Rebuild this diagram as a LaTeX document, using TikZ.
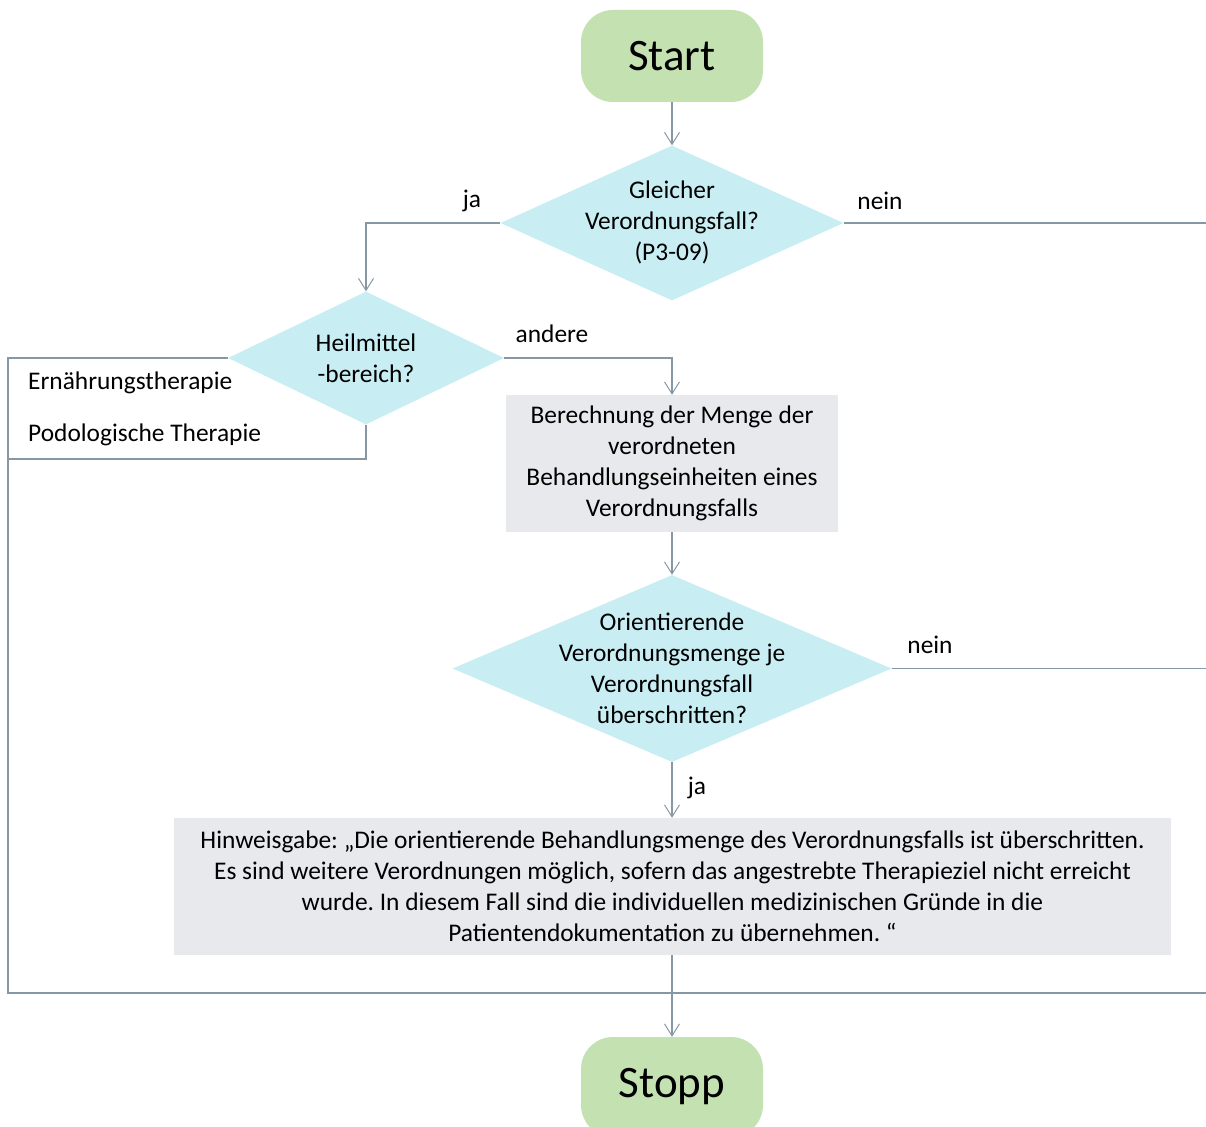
\documentclass[tikz,border=0pt]{standalone}
\usepackage{fontspec}
\setmainfont{Carlito}
\usetikzlibrary{shapes.geometric,arrows.meta}
\definecolor{lineC}{HTML}{8798A4}
\definecolor{greenC}{HTML}{C4E1B2}
\definecolor{cyanC}{HTML}{C8EEF3}
\definecolor{greyC}{HTML}{E7E9EC}
\frenchspacing
\begin{document}
\begin{tikzpicture}[x=1pt,y=-1pt,
  every node/.style={font=\fontsize{25.4}{31}\selectfont, text=black},
  term/.style={draw=none, fill=greenC, rounded corners=32pt, minimum width=182pt, minimum height=92pt, inner sep=0pt, font=\fontsize{45}{50}\selectfont},
  dia/.style={diamond, draw=none, fill=cyanC, inner sep=0pt},
  procbox/.style={draw=none, fill=greyC, inner sep=0pt},
  txt/.style={align=center, inner sep=0pt},
  lbl/.style={inner sep=0pt},
  conn/.style={draw=lineC, line width=1.2pt},
  arr/.style={conn, -{Straight Barb[length=12pt,width=15pt,line width=1pt]}}
]
\useasboundingbox (0,0) rectangle (1206,1126);

% Start / Stop
\node[term] (start) at (672,56) {Start};
\node[term, minimum height=100pt] (stop) at (672,1087) {Stopp};

% Decision 1
\node[dia, minimum width=343pt, minimum height=155pt] (d1) at (672,223) {};
\node[txt] (d1t) at (672,222) {Gleicher\\Verordnungsfall?\\(P3-09)};

% Decision 2
\node[dia, minimum width=276pt, minimum height=133pt] (d2) at (366,358) {};
\node[txt] (d2t) at (d2.center) {Heilmittel\\-bereich?};

% Box 1
\node[procbox, minimum width=332pt, minimum height=137pt] (b1) at (672,463.5) {};
\node[txt] (b1t) at (b1.center) {Berechnung der Menge der\\verordneten\\Behandlungseinheiten eines\\Verordnungsfalls};

% Decision 3
\node[dia, minimum width=439pt, minimum height=187pt] (d3) at (672,668.5) {};
\node[txt] (d3t) at (d3.center) {Orientierende\\Verordnungsmenge je\\Verordnungsfall\\überschritten?};

% Box 2
\node[procbox, minimum width=997pt, minimum height=137pt] (b2) at (672.5,886.5) {};
\node[txt] (b2t) at (b2.center) {Hinweisgabe: „Die orientierende Behandlungsmenge des Verordnungsfalls ist überschritten.\\Es sind weitere Verordnungen möglich, sofern das angestrebte Therapieziel nicht erreicht\\wurde. In diesem Fall sind die individuellen medizinischen Gründe in die\\Patientendokumentation zu übernehmen. “};

% Coordinates
\coordinate (r1) at (1212,223);
\coordinate (r3) at (1212,668.5);
\coordinate (lt) at (8,358);
\coordinate (lb) at (8,993);
\coordinate (rb) at (1212,993);
\coordinate (d2b) at (366,459);
\coordinate (lm) at (8,459);

% Connectors
\draw[arr] (start.south) -- (d1.north);
\draw[arr] (d1.west) -| (d2.north);
\draw[conn] (d1.east) -- (r1);
\draw[arr] (d2.east) -| (b1.north);
\draw[conn] (d2.west) -- (lt) -- (lb) -- (rb);
\draw[conn] (d2.south) -- (d2b) -- (lm);
\draw[arr] (b1.south) -- (d3.north);
\draw[conn] (d3.east) -- (r3);
\draw[arr] (d3.south) -- (b2.north -| d3.south);
\draw[arr] (b2.south -| stop.north) -- (stop.north);

% Labels
\node[lbl] (lja1) at (472,201) {ja};
\node[lbl] (lnein1) at (880,201) {nein};
\node[lbl] (land) at (552,334) {andere};
\node[lbl, anchor=west] (lern) at (28,383) {Ernährungstherapie};
\node[lbl, anchor=west] (lpod) at (28,435) {Podologische Therapie};
\node[lbl] (lnein2) at (930,645) {nein};
\node[lbl] (lja2) at (697,788) {ja};
\end{tikzpicture}
\end{document}
